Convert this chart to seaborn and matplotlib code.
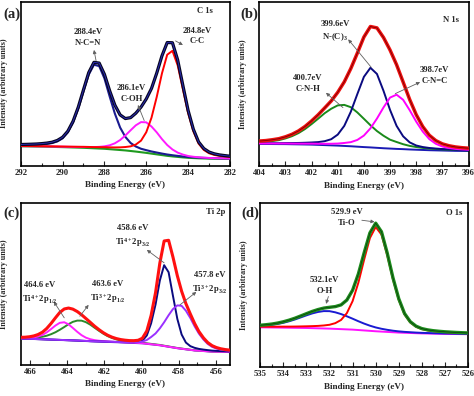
import matplotlib
matplotlib.use("Agg")
import matplotlib.pyplot as plt
from matplotlib.ticker import MultipleLocator
import numpy as np
import seaborn as sns

# ---------------- data (intensity in arbitrary units, 0-100 scale) ----------------
# (a) C 1s
a_energy = [282.0, 282.25, 282.5, 282.75, 283.0, 283.25, 283.5, 283.75, 284.0, 284.25, 284.5,
            284.75, 285.0, 285.25, 285.5, 285.75, 286.0, 286.25, 286.5, 286.75, 287.0, 287.25,
            287.5, 287.75, 288.0, 288.25, 288.5, 288.75, 289.0, 289.25, 289.5, 289.75, 290.0,
            290.25, 290.5, 290.75, 291.0, 291.25, 291.5, 291.75, 292.0]
a_bg = [4.1, 4.15, 4.2, 4.25, 4.3, 4.4, 4.5, 4.65, 4.8, 5.05, 5.35, 5.65, 6.0, 6.45, 6.9, 7.35,
        7.8, 8.2, 8.6, 8.95, 9.3, 9.55, 9.8, 10.05, 10.3, 10.45, 10.6, 10.75, 10.9, 11.0, 11.1,
        11.2, 11.3, 11.38, 11.45, 11.53, 11.6, 11.65, 11.7, 11.75, 11.8]
a_ncn = [0.24, 0.26, 0.28, 0.31, 0.33, 0.36, 0.40, 0.44, 0.49, 0.55, 0.62, 0.71, 0.81, 0.93, 1.11,
         1.31, 1.65, 2.11, 3.09, 4.89, 8.24, 13.7, 21.9, 32.1, 42.9, 50.2, 50.9, 44.7, 34.3, 23.7,
         15.1, 9.06, 5.36, 3.40, 2.32, 1.75, 1.39, 1.13, 0.98, 0.85, 0.74]
a_coh = [0.24, 0.28, 0.31, 0.37, 0.42, 0.49, 0.62, 0.79, 1.11, 1.72, 2.63, 4.23, 6.6, 9.74, 13.4,
         16.5, 18.6, 18.35, 16.0, 12.6, 9.1, 6.07, 3.84, 2.37, 1.49, 1.02, 0.73, 0.58, 0.48, 0.41,
         0.35, 0.30, 0.27, 0.24, 0.21, 0.20, 0.18, 0.17, 0.16, 0.15, 0.14]
a_cc = [1.22, 1.46, 1.78, 2.30, 3.27, 5.18, 8.94, 16.3, 27.2, 41.5, 55.8, 64.3, 61.6, 49.8, 35.0,
        21.9, 12.6, 7.06, 4.28, 2.82, 2.07, 1.62, 1.33, 1.12, 0.97, 0.84, 0.73, 0.67, 0.60, 0.53,
        0.47, 0.42, 0.38, 0.36, 0.33, 0.30, 0.28, 0.27, 0.25, 0.24, 0.23]

# (b) N 1s
b_energy = [396.0, 396.25, 396.5, 396.75, 397.0, 397.25, 397.5, 397.75, 398.0, 398.25, 398.5,
            398.75, 399.0, 399.25, 399.5, 399.75, 400.0, 400.25, 400.5, 400.75, 401.0, 401.25,
            401.5, 401.75, 402.0, 402.25, 402.5, 402.75, 403.0, 403.25, 403.5, 403.75, 404.0]
b_bg = [9.1, 9.15, 9.2, 9.3, 9.4, 9.5, 9.6, 9.75, 9.9, 10.05, 10.25, 10.4, 10.6, 10.8, 11.05,
        11.3, 11.5, 11.75, 12.0, 12.2, 12.4, 12.55, 12.7, 12.85, 13.0, 13.08, 13.15, 13.22, 13.3,
        13.32, 13.35, 13.38, 13.4]
b_nc3 = [0.51, 0.56, 0.66, 0.78, 0.91, 1.11, 1.36, 1.78, 2.57, 4.32, 7.81, 14.0, 23.5, 34.9, 44.9,
         48.4, 42.7, 32.0, 21.0, 12.2, 6.69, 3.73, 2.38, 1.68, 1.30, 1.06, 0.87, 0.74, 0.63, 0.55,
         0.50, 0.45, 0.40]
b_cnh = [0.45, 0.49, 0.55, 0.61, 0.71, 0.83, 0.98, 1.24, 1.64, 2.18, 3.0, 4.2, 5.4, 7.6, 10.2,
         13.5, 17.2, 20.8, 23.75, 24.95, 24.45, 22.25, 19.4, 15.9, 12.5, 9.4, 6.85, 4.9, 3.45, 2.4,
         1.8, 1.33, 1.1]
b_cnc = [0.77, 0.93, 1.18, 1.63, 2.44, 4.0, 6.77, 11.2, 17.1, 23.9, 30.0, 32.95, 31.0, 24.8, 17.8,
         11.6, 7.0, 4.1, 2.5, 1.8, 1.25, 0.99, 0.80, 0.68, 0.59, 0.50, 0.45, 0.40, 0.37, 0.34,
         0.32, 0.30, 0.28]

# (c) Ti 2p
c_energy = [455.28, 455.51, 455.75, 455.98, 456.21, 456.45, 456.68, 456.92, 457.15, 457.38,
            457.62, 457.85, 458.08, 458.32, 458.55, 458.79, 459.02, 459.25, 459.49, 459.72,
            459.96, 460.19, 460.42, 460.66, 460.89, 461.12, 461.36, 461.59, 461.83, 462.06,
            462.29, 462.53, 462.76, 463.0, 463.23, 463.46, 463.70, 463.93, 464.16, 464.40,
            464.63, 464.87, 465.10, 465.33, 465.57, 465.80, 466.03, 466.27, 466.50]
c_bg = [7.8, 7.88, 7.95, 8.03, 8.1, 8.28, 8.45, 8.62, 8.8, 9.15, 9.5, 9.85, 10.2, 10.65, 11.1,
        11.55, 12.0, 12.3, 12.6, 12.9, 13.2, 13.33, 13.45, 13.58, 13.7, 13.8, 13.9, 14.0, 14.1,
        14.2, 14.3, 14.4, 14.5, 14.63, 14.75, 14.88, 15.0, 15.1, 15.2, 15.3, 15.4, 15.5, 15.6,
        15.7, 15.8, 15.88, 15.95, 16.03, 16.1]
c_ti4_32 = [0.34, 0.39, 0.46, 0.53, 0.63, 0.75, 0.91, 1.16, 1.63, 2.32, 4.2, 8.84, 18.1, 32.2,
            46.1, 50.0, 40.1, 25.0, 13.0, 5.2, 1.6, 0.7, 0.4, 0.28, 0.22, 0.18, 0.16, 0.14, 0.12,
            0.11, 0.1, 0.09, 0.08, 0.08, 0.07, 0.07, 0.06, 0.06, 0.05, 0.05, 0.05, 0.04, 0.04,
            0.04, 0.04, 0.03, 0.03, 0.03, 0.03]
c_ti3_32 = [0.84, 1.02, 1.37, 1.96, 2.93, 4.6, 7.16, 10.6, 14.9, 19.7, 23.9, 26.55, 26.5, 23.7,
            19.5, 14.7, 10.5, 7.05, 4.52, 2.4, 1.1, 0.55, 0.35, 0.25, 0.2, 0.17, 0.15, 0.13, 0.12,
            0.11, 0.1, 0.09, 0.09, 0.08, 0.08, 0.07, 0.07, 0.06, 0.06, 0.06, 0.05, 0.05, 0.05,
            0.05, 0.04, 0.04, 0.04, 0.04, 0.04]
c_ti4_12 = [0.02, 0.02, 0.03, 0.03, 0.03, 0.03, 0.03, 0.04, 0.04, 0.04, 0.04, 0.05, 0.05, 0.05,
            0.06, 0.06, 0.07, 0.07, 0.08, 0.09, 0.11, 0.11, 0.13, 0.14, 0.16, 0.18, 0.21, 0.25,
            0.31, 0.39, 0.52, 0.79, 1.27, 2.12, 3.52, 5.46, 7.76, 9.87, 11.06, 10.6, 8.85, 6.53,
            4.41, 2.73, 1.63, 0.98, 0.64, 0.42, 0.35]
c_ti3_12 = [0.07, 0.07, 0.07, 0.08, 0.09, 0.09, 0.1, 0.11, 0.12, 0.12, 0.13, 0.14, 0.15, 0.17,
            0.18, 0.2, 0.23, 0.25, 0.28, 0.32, 0.37, 0.43, 0.53, 0.66, 0.89, 1.21, 1.75, 2.52, 3.6,
            4.99, 6.65, 8.47, 10.27, 11.7, 12.5, 12.4, 11.5, 9.95, 8.1, 6.3, 4.69, 3.36, 2.34,
            1.61, 1.15, 0.86, 0.63, 0.49, 0.42]

# (d) O 1s
d_energy = [526.0, 526.25, 526.5, 526.75, 527.0, 527.25, 527.5, 527.75, 528.0, 528.25, 528.5,
            528.75, 529.0, 529.25, 529.5, 529.75, 530.0, 530.25, 530.5, 530.75, 531.0, 531.25,
            531.5, 531.75, 532.0, 532.25, 532.5, 532.75, 533.0, 533.25, 533.5, 533.75, 534.0,
            534.25, 534.5, 534.75, 535.0]
d_bg = [20.0, 20.05, 20.1, 20.15, 20.2, 20.28, 20.35, 20.43, 20.5, 20.62, 20.75, 20.87, 21.0,
        21.2, 21.4, 21.6, 21.8, 22.05, 22.3, 22.55, 22.8, 22.95, 23.1, 23.25, 23.4, 23.5, 23.6,
        23.7, 23.8, 23.85, 23.9, 23.95, 24.0, 24.05, 24.1, 24.15, 24.2]
d_tio = [0.64, 0.71, 0.80, 0.94, 1.08, 1.27, 1.53, 1.94, 2.6, 3.9, 6.4, 11.2, 19.9, 32.2, 46.8,
         59.2, 63.6, 56.6, 43.2, 28.9, 17.4, 9.9, 5.6, 3.5, 2.36, 1.83, 1.47, 1.23, 1.03, 0.9,
         0.78, 0.69, 0.63, 0.56, 0.48, 0.45, 0.40]
d_oh = [0.15, 0.16, 0.18, 0.19, 0.21, 0.23, 0.26, 0.29, 0.33, 0.38, 0.47, 0.56, 0.73, 0.94, 1.28,
        1.72, 2.33, 3.15, 4.17, 5.36, 6.66, 7.98, 9.19, 10.1, 10.66, 10.6, 9.97, 8.98, 7.71, 6.39,
        5.09, 3.95, 2.97, 2.2, 1.63, 1.2, 0.88]

# ---------------- style ----------------
sns.set_theme(style="ticks")
plt.rcParams["font.family"] = ["Liberation Serif", "DejaVu Serif"]
plt.rcParams["font.weight"] = "bold"
plt.rcParams["axes.labelweight"] = "bold"
plt.rcParams["mathtext.fontset"] = "custom"
plt.rcParams["mathtext.rm"] = "Liberation Serif:bold"
plt.rcParams["mathtext.bf"] = "Liberation Serif:bold"
plt.rcParams["mathtext.it"] = "Liberation Serif:bold"
plt.rcParams["mathtext.default"] = "bf"

FS = 6.2


def line(ax, x, y, color, lw, z):
    sns.lineplot(x=x, y=y, ax=ax, color=color, linewidth=lw, zorder=z,
                 estimator=None, legend=False)


def setup(ax, xlim, ticks, minor):
    ax.set_xlim(*xlim)
    ax.set_ylim(0, 100)
    ax.set_yticks([])
    ax.set_xticks(ticks)
    ax.xaxis.set_minor_locator(MultipleLocator(minor))
    ax.xaxis.set_major_formatter(matplotlib.ticker.FormatStrFormatter("%d"))
    ax.tick_params(axis="x", which="both", direction="in", top=False, width=0.8,
                   labelsize=FS, pad=2.5)
    ax.tick_params(axis="x", which="major", length=3.5)
    ax.tick_params(axis="x", which="minor", length=2)
    for s in ax.spines.values():
        s.set_linewidth(1.2)
        s.set_color("black")
    ax.set_xlabel("Binding Energy (eV)", fontsize=FS + 0.4, labelpad=3)
    ax.set_ylabel("Intensity (arbitrary units)", fontsize=FS - 0.4)
    ax.yaxis.set_label_coords(-0.06, 0.5)
    ax.grid(False)


def pointer(ax, tail, head):
    ax.annotate("", xy=head, xytext=tail,
                arrowprops=dict(arrowstyle="-|>", color="#606060", lw=0.6,
                                mutation_scale=5, shrinkA=0, shrinkB=0), zorder=6)


def label(ax, x, y, s):
    ax.text(x, y, s, ha="center", va="center", fontsize=FS, linespacing=1.45, zorder=7)


fig = plt.figure(figsize=(4.74, 3.96), dpi=100)
ax_a = fig.add_axes([0.0437, 0.5816, 0.4415, 0.4146])
ax_b = fig.add_axes([0.5470, 0.5808, 0.4414, 0.4154])
ax_c = fig.add_axes([0.0437, 0.0790, 0.4415, 0.4084])
ax_d = fig.add_axes([0.5492, 0.0732, 0.4381, 0.4141])

# ----- (a) C 1s -----
x = np.array(a_energy)
bg = np.array(a_bg)
comps = [np.array(a_ncn), np.array(a_coh), np.array(a_cc)]
total = bg + sum(comps)
line(ax_a, x, bg, "#1f9a1f", 1.5, 2)
line(ax_a, x, bg + comps[0], "#1a1a90", 1.5, 3)
line(ax_a, x, bg + comps[1], "#ff1aff", 1.4, 3)
line(ax_a, x, bg + comps[2], "#ff0000", 1.4, 3)
line(ax_a, x, total, "#050520", 2.3, 4)
line(ax_a, x, total, "#2a2ab0", 0.7, 5)
setup(ax_a, (292, 282), [282, 284, 286, 288, 290, 292], 1)
label(ax_a, 288.78, 78, "288.4eV\nN-C=N")
pointer(ax_a, (288.4, 64), (288.5, 70.5))
label(ax_a, 286.7, 44, "286.1eV\nC-OH")
pointer(ax_a, (286.1, 27.5), (286.4, 37))
label(ax_a, 283.58, 79, "284.8eV\nC-C")
pointer(ax_a, (284.6, 76), (284.25, 73.5))
ax_a.text(283.2, 94, "C 1s", ha="center", va="center", fontsize=FS)

# ----- (b) N 1s -----
x = np.array(b_energy)
bg = np.array(b_bg)
comps = [np.array(b_nc3), np.array(b_cnh), np.array(b_cnc)]
total = bg + sum(comps)
line(ax_b, x, bg, "#1a1ab4", 1.4, 2)
line(ax_b, x, bg + comps[1], "#1a8a1a", 1.4, 3)
line(ax_b, x, bg + comps[0], "#0a0a80", 1.4, 3)
line(ax_b, x, bg + comps[2], "#ff00ff", 1.4, 3)
line(ax_b, x, total, "#ee1010", 2.5, 4)
line(ax_b, x, total, "#7a0000", 0.6, 5)
setup(ax_b, (404, 396), [396, 397, 398, 399, 400, 401, 402, 403, 404], 0.5)
label(ax_b, 401.1, 82, "399.6eV\nN-(C)$_3$")
pointer(ax_b, (399.72, 60), (400.6, 77))
label(ax_b, 402.14, 50, "400.7eV\nC-N-H")
pointer(ax_b, (400.8, 35.5), (401.45, 44.5))
label(ax_b, 397.29, 55, "398.7eV\nC-N=C")
pointer(ax_b, (398.8, 44), (397.85, 51))
ax_b.text(396.67, 89, "N 1s", ha="center", va="center", fontsize=FS)

# ----- (c) Ti 2p -----
x = np.array(c_energy)
bg = np.array(c_bg)
comps = [np.array(c_ti4_32), np.array(c_ti3_32), np.array(c_ti4_12), np.array(c_ti3_12)]
total = bg + sum(comps)
line(ax_c, x, bg, "#7a28d8", 1.4, 2)
line(ax_c, x, bg + comps[3], "#2a8a2a", 1.4, 3)
line(ax_c, x, bg + comps[2], "#ff20ff", 1.4, 3)
line(ax_c, x, bg + comps[0], "#0a0a80", 1.4, 3)
line(ax_c, x, bg + comps[1], "#9a30ff", 1.4, 3)
line(ax_c, x, total, "#ff1010", 2.2, 4)
setup(ax_c, (466.5, 455.25), [456, 458, 460, 462, 464, 466], 1)
label(ax_c, 460.46, 79, "458.6 eV\nTi$^{4+}$2p$_{3/2}$")
pointer(ax_c, (458.79, 63), (459.72, 71))
label(ax_c, 456.35, 50.5, "457.8 eV\nTi$^{3+}$2p$_{3/2}$")
pointer(ax_c, (457.94, 37), (457.06, 45))
label(ax_c, 465.46, 44, "464.6 eV\nTi$^{4+}$2p$_{1/2}$")
pointer(ax_c, (464.16, 29), (464.72, 39))
label(ax_c, 461.84, 44.5, "463.6 eV\nTi$^{3+}$2p$_{1/2}$")
pointer(ax_c, (463.32, 30), (462.85, 37))
ax_c.text(456.0, 94.4, "Ti 2p", ha="center", va="center", fontsize=FS)

# ----- (d) O 1s -----
x = np.array(d_energy)
bg = np.array(d_bg)
comps = [np.array(d_tio), np.array(d_oh)]
total = bg + sum(comps)
line(ax_d, x, bg, "#ff10ff", 1.4, 2)
line(ax_d, x, bg + comps[1], "#1a1ad2", 1.4, 3)
line(ax_d, x, bg + comps[0], "#ff0000", 1.4, 3)
line(ax_d, x, total, "#1c8c1c", 2.4, 4)
line(ax_d, x, total, "#0a3a0a", 0.5, 5)
setup(ax_d, (535, 526), list(range(526, 536)), 0.5)
label(ax_d, 531.24, 91, "529.9 eV\nTi-O")
pointer(ax_d, (530.6, 89.5), (530.05, 88.5))
label(ax_d, 532.21, 49.5, "532.1eV\nO-H")
pointer(ax_d, (532.05, 43), (532.15, 38.5))
ax_d.text(526.6, 94, "O 1s", ha="center", va="center", fontsize=FS)

for s, (fx, fy) in zip(["(a)", "(b)", "(c)", "(d)"],
                       [(0.025, 0.965), (0.525, 0.965), (0.025, 0.462), (0.528, 0.462)]):
    fig.text(fx, fy, s, ha="center", va="center", fontsize=10.5)

fig.savefig("out.png", dpi=100)
